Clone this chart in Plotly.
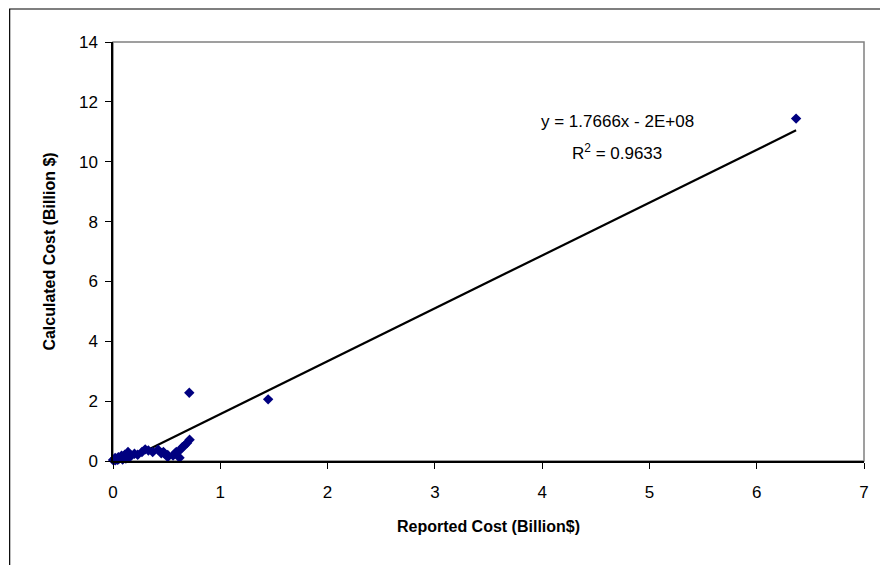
import numpy as np
import plotly.graph_objects as go

# Reported vs calculated project cost, billions of dollars
reported = [0.00, 0.01, 0.02, 0.02, 0.03, 0.04, 0.05, 0.05, 0.06, 0.07, 0.08, 0.09,
            0.10, 0.11, 0.12, 0.14, 0.15, 0.17, 0.20, 0.23, 0.27, 0.30, 0.33, 0.37,
            0.42, 0.45, 0.47, 0.48, 0.51, 0.51, 0.56, 0.575, 0.59, 0.62, 0.62,
            0.646, 0.667, 0.69, 0.714, 0.711, 1.446, 6.367]
calculated = [0.03, 0.05, 0.02, 0.10, 0.07, 0.04, 0.13, 0.06, 0.09, 0.12, 0.18, 0.05,
              0.10, 0.21, 0.08, 0.30, 0.12, 0.18, 0.24, 0.21, 0.30, 0.39, 0.35, 0.30,
              0.38, 0.26, 0.30, 0.25, 0.13, 0.20, 0.18, 0.24, 0.30, 0.35, 0.11,
              0.46, 0.52, 0.60, 0.71, 2.28, 2.06, 11.44]

# Linear trendline: y = 1.7666x - 2E+08 (dollars), i.e. intercept -0.2 billion
slope = 1.7666
intercept = -0.2
x_fit = np.array([min(reported), max(reported)])
y_fit = slope * x_fit + intercept

x_ticks = [0, 1, 2, 3, 4, 5, 6, 7]
y_ticks = [0, 2, 4, 6, 8, 10, 12, 14]

fig = go.Figure()
fig.add_trace(go.Scatter(
    x=x_fit, y=y_fit, mode="lines",
    line=dict(color="black", width=2.2),
    hoverinfo="skip", showlegend=False,
))
fig.add_trace(go.Scatter(
    x=reported, y=calculated, mode="markers",
    marker=dict(symbol="diamond", size=8, color="#000080",
                line=dict(width=0)),
    showlegend=False, cliponaxis=False,
))

font = "Liberation Sans, Arial, sans-serif"

fig.update_layout(
    width=880, height=565,
    margin=dict(l=113, r=11, t=42, b=104),
    paper_bgcolor="white", plot_bgcolor="white",
    font=dict(family=font, size=17, color="black"),
    xaxis=dict(
        range=[0, 7], tickvals=x_ticks, ticks="outside", ticklen=6,
        tickcolor="black", showgrid=False, zeroline=False,
        showline=True, linecolor="black", linewidth=1.5,
        tickfont=dict(size=17), ticklabelstandoff=9,
        title=dict(text="<b>Reported Cost (Billion$)</b>",
                   font=dict(size=16), standoff=20),
    ),
    yaxis=dict(
        range=[0, 14], tickvals=y_ticks, ticks="outside", ticklen=6,
        tickcolor="black", showgrid=False, zeroline=False,
        showline=True, linecolor="black", linewidth=1.5,
        tickfont=dict(size=17), ticklabelstandoff=4,
        title=dict(text="<b>Calculated Cost (Billion $)</b>",
                   font=dict(size=16), standoff=19),
    ),
    shapes=[
        # plot-area frame (top and right edges)
        dict(type="rect", xref="paper", yref="paper", x0=0, x1=1, y0=0, y1=1,
             line=dict(color="#808080", width=1.5), layer="below"),
        # chart-area border
        dict(type="rect", xref="paper", yref="paper",
             x0=-0.1376, x1=1.05, y0=-0.4, y1=1.0788,
             line=dict(color="black", width=1.2), layer="below"),
    ],
    annotations=[
        dict(x=4.7, y=11.34, xref="x", yref="y", showarrow=False,
             text="y = 1.7666x - 2E+08", font=dict(size=17),
             xanchor="center", yanchor="middle"),
        dict(x=4.7, y=10.33, xref="x", yref="y", showarrow=False,
             text="R<sup>2</sup> = 0.9633", font=dict(size=17),
             xanchor="center", yanchor="middle"),
    ],
)

fig.write_html("out.html")
